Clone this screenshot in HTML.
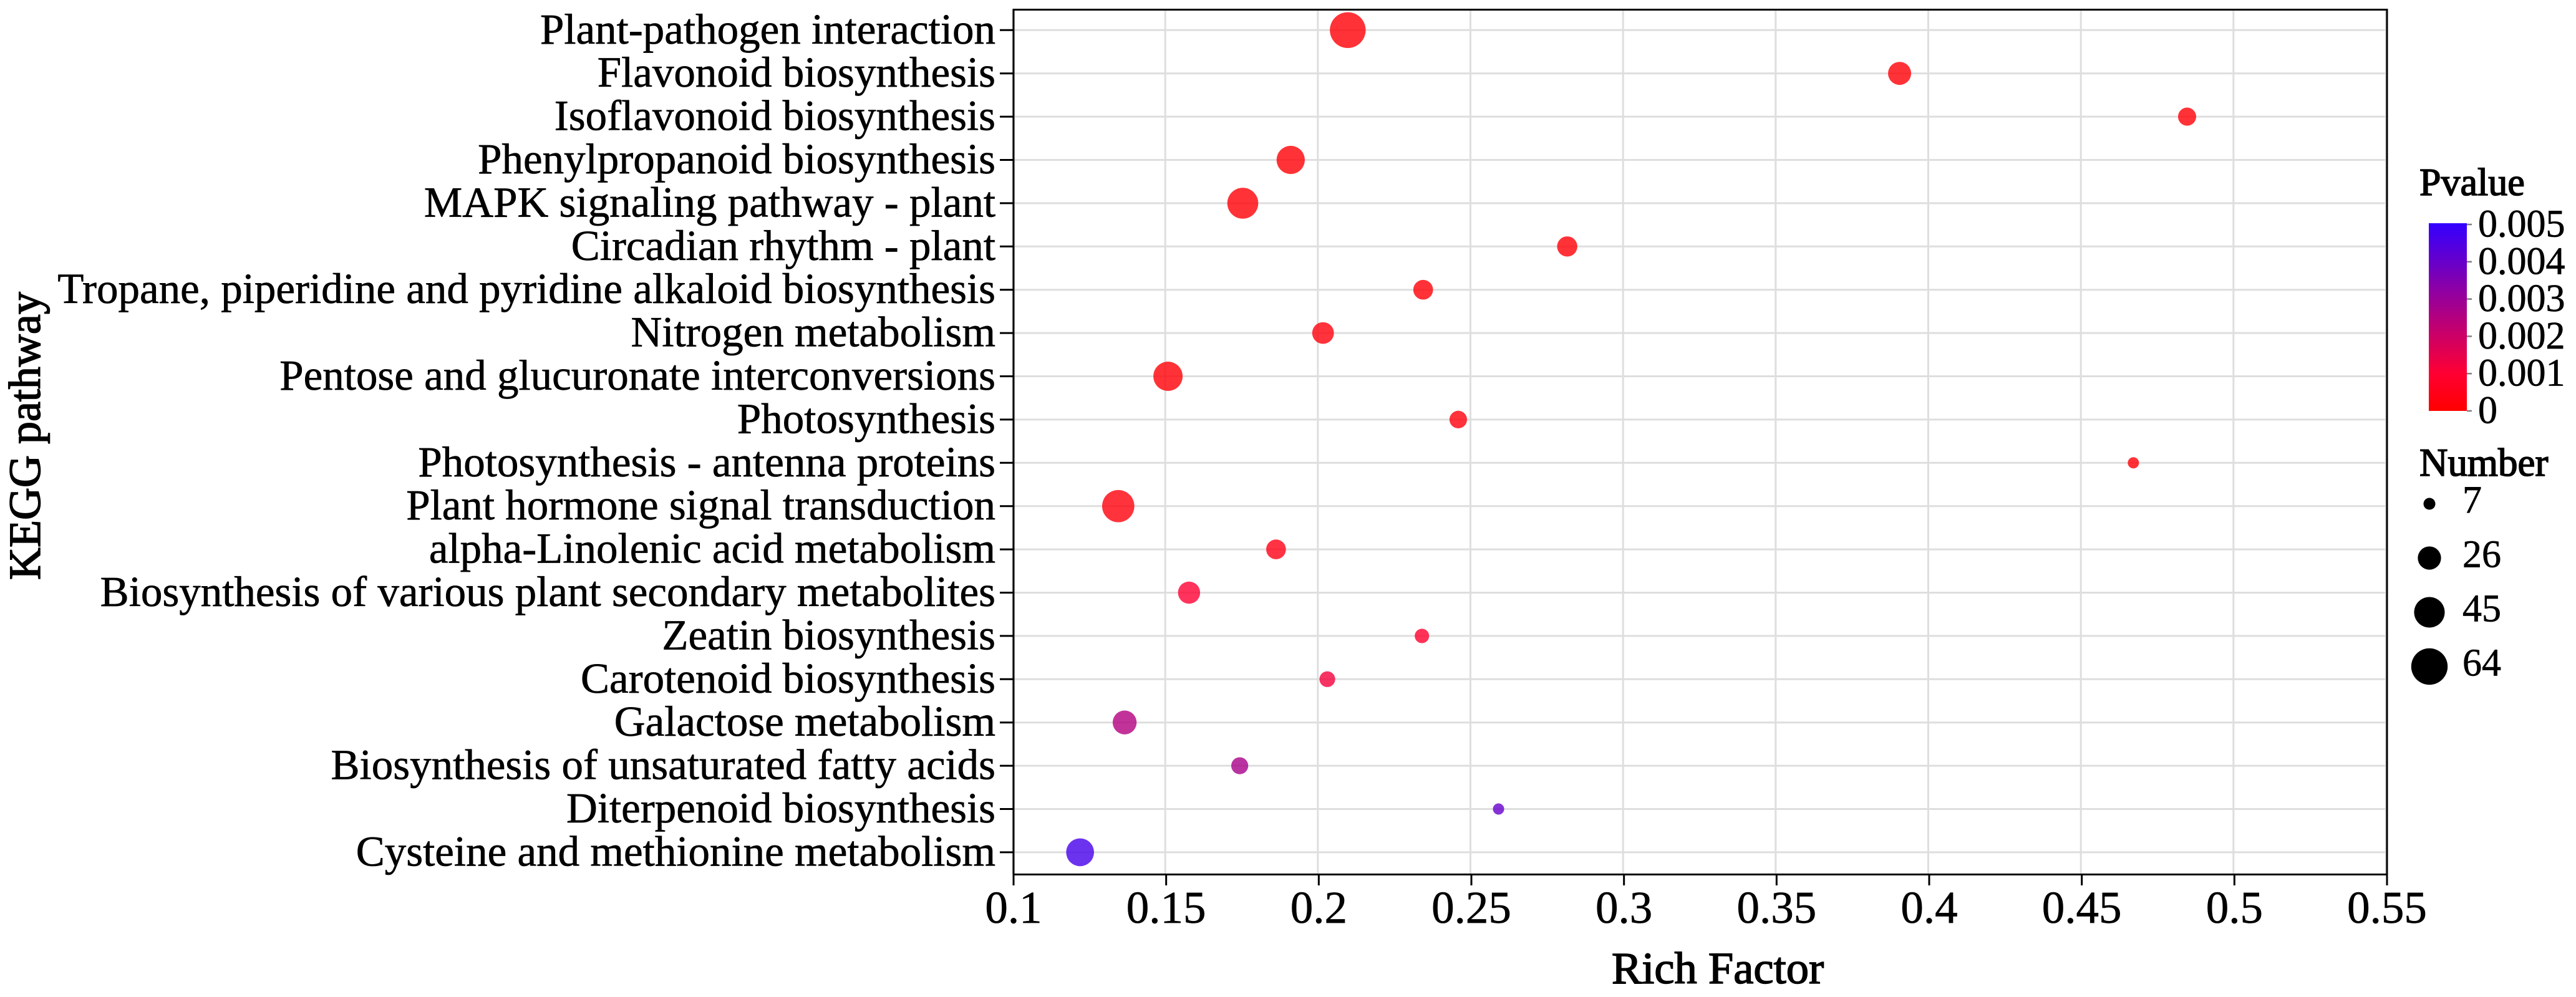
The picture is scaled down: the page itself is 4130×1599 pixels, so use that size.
<!DOCTYPE html>
<html lang="en">
<head>
<meta charset="utf-8">
<title>KEGG pathway enrichment bubble chart</title>
<style>
html,body{margin:0;padding:0;background:#fff;width:4130px;height:1599px;overflow:hidden}
svg{display:block}
text{font-family:"Liberation Serif","Times New Roman",serif;fill:#000;stroke:#000;stroke-width:0.7px}
</style>
</head>
<body>
<svg id="chart" xmlns="http://www.w3.org/2000/svg" width="4130" height="1599" viewBox="0 0 4130 1599">
  <defs>
    <linearGradient id="pvalue-gradient" x1="0" y1="1" x2="0" y2="0"></linearGradient>
  </defs>
  <rect x="0" y="0" width="4130" height="1599" fill="#ffffff"></rect>
  <text x="2754" y="1577" font-size="72.5" text-anchor="middle" style="stroke-width:1.6px">Rich Factor</text>
  <text transform="translate(64,930) rotate(-90)" font-size="72" style="stroke-width:1.6px">KEGG pathway</text>
  <text x="3879" y="313" font-size="62" style="stroke-width:1.6px">Pvalue</text>
  <text x="3879" y="763" font-size="63" style="stroke-width:1.6px">Number</text>
</svg>
<script>
const categories = ["Plant-pathogen interaction","Flavonoid biosynthesis","Isoflavonoid biosynthesis","Phenylpropanoid biosynthesis","MAPK signaling pathway - plant","Circadian rhythm - plant","Tropane, piperidine and pyridine alkaloid biosynthesis","Nitrogen metabolism","Pentose and glucuronate interconversions","Photosynthesis","Photosynthesis - antenna proteins","Plant hormone signal transduction","alpha-Linolenic acid metabolism","Biosynthesis of various plant secondary metabolites","Zeatin biosynthesis","Carotenoid biosynthesis","Galactose metabolism","Biosynthesis of unsaturated fatty acids","Diterpenoid biosynthesis","Cysteine and methionine metabolism"];
const richFactor = [0.2095,0.3903,0.4845,0.1908,0.1751,0.2814,0.2342,0.2014,0.1506,0.2457,0.4669,0.1343,0.1860,0.1575,0.2338,0.2028,0.1364,0.1741,0.2589,0.1218];
const geneNumber = [64,27,17,40,48,21,20,24,43,16,7,52,20,25,11,13,29,15,7,39];
const pValue = [0.0001,0.0001,0.0001,0.0001,0.0001,0.0001,0.0001,0.0002,0.0001,0.0002,0.0001,0.0002,0.0004,0.001,0.0009,0.0012,0.0025,0.0027,0.004,0.0046];
const xTickValues = [0.1,0.15,0.2,0.25,0.3,0.35,0.4,0.45,0.5,0.55];
const xTickLabels = ["0.1","0.15","0.2","0.25","0.3","0.35","0.4","0.45","0.5","0.55"];
const pLegendValues = [0,0.001,0.002,0.003,0.004,0.005];
const pLegendLabels = ["0","0.001","0.002","0.003","0.004","0.005"];
const numberLegendValues = [7,26,45,64];
const colorStops = ["#ff0000","#ff0033","#cc0066","#990099","#6600cc","#3300ff"];

const NS = "http://www.w3.org/2000/svg";
const svg = document.getElementById("chart");
const plot = {left:1625, right:3827, top:15.5, bottom:1402.5};
function xScale(v){ return plot.left + (v - 0.1) / 0.45 * (plot.right - plot.left); }
function yScale(i){ return 48.3 + i * 69.4; }
function pScale(p){ return 659 - p / 0.005 * 299; }
function rScale(n){ return Math.sqrt(13.03 * n - 10); }
function hexToRgb(h){ return [1,3,5].map(function(i){ return parseInt(h.substr(i,2),16); }); }
function colorScale(p){
  const t = Math.max(0, Math.min(0.99999, p / 0.005)) * (colorStops.length - 1);
  const k = Math.floor(t), f = t - k;
  const a = hexToRgb(colorStops[k]), b = hexToRgb(colorStops[k + 1]);
  return "rgb(" + a.map(function(c,j){ return Math.round(c + (b[j] - c) * f); }).join(",") + ")";
}
function make(tag, attrs, text){
  const el = document.createElementNS(NS, tag);
  Object.keys(attrs).forEach(function(k){ el.setAttribute(k, attrs[k]); });
  if (text !== undefined) el.textContent = text;
  svg.appendChild(el);
  return el;
}
let el;

/* gradient stops */
const grad = document.getElementById("pvalue-gradient");
colorStops.forEach(function(c, i){
  const s = document.createElementNS(NS, "stop");
  s.setAttribute("offset", (i / (colorStops.length - 1)));
  s.setAttribute("stop-color", c);
  grad.appendChild(s);
});

/* vertical gridlines */
xTickValues.forEach(function(v){
  const px = xScale(v) - 1.5;
  el = make("line", {x1:px, x2:px, y1:plot.top, y2:plot.bottom, stroke:"#dedede", "stroke-width":3});
  
  
});
/* horizontal gridlines */
categories.forEach(function(c, i){
  const py = yScale(i);
  el = make("line", {x1:plot.left, x2:plot.right - 1, y1:py, y2:py, stroke:"#dedede", "stroke-width":3});
  
  
});

/* panel border */
el = make("rect", {x:plot.left, y:plot.top, width:plot.right - plot.left, height:plot.bottom - plot.top, fill:"none", stroke:"#000", "stroke-width":3});



/* y ticks + labels */
categories.forEach(function(c, i){
  const py = yScale(i);
  el = make("line", {x1:1603, x2:plot.left, y1:py, y2:py, stroke:"#000", "stroke-width":3});
  
  
  el = make("text", {x:1596, y:py + 21.5, "font-size":69, "text-anchor":"end"}, c);
  
  
});

/* x ticks + labels */
xTickValues.forEach(function(v, i){
  const px = xScale(v);
  el = make("line", {x1:px, x2:px, y1:plot.bottom, y2:1420, stroke:"#000", "stroke-width":3});
  
  
  el = make("text", {x:px, y:1480, "font-size":73, "text-anchor":"middle"}, xTickLabels[i]);
  
  
});

/* bubbles */
categories.forEach(function(c, i){
  el = make("circle", {cx:xScale(richFactor[i]), cy:yScale(i), r:rScale(geneNumber[i]), fill:colorScale(pValue[i]), "fill-opacity":0.8});
  
  
});

/* colorbar */
el = make("rect", {x:3894, y:358, width:61, height:301, fill:"url(#pvalue-gradient)"});


pLegendValues.forEach(function(p, i){
  const py = pScale(p);
  el = make("line", {x1:3955, x2:3963, y1:py, y2:py, stroke:"#7f7f7f", "stroke-width":2.5});
  
  
  el = make("text", {x:3973, y:py + 19.5, "font-size":62}, pLegendLabels[i]);
  
  
});

/* size legend */
numberLegendValues.forEach(function(n, i){
  const py = 808 + i * 87;
  el = make("circle", {cx:3895, cy:py, r:rScale(n) + 0.5, fill:"#000"});
  
  
  el = make("text", {x:3948, y:py + 14.5, "font-size":62}, String(n));
  
  
});
</script>
</body>
</html>
